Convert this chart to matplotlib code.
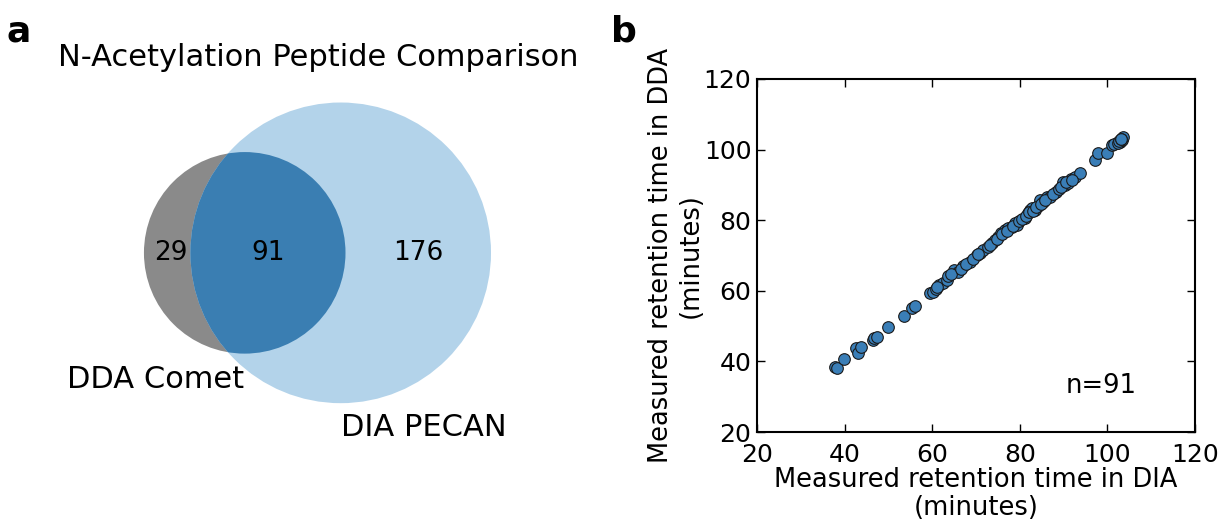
import matplotlib
matplotlib.use('Agg')
import matplotlib.pyplot as plt
from matplotlib.patches import Circle
import numpy as np

# venn counts
only_dda = 29
shared = 91
only_dia = 176
set_names = ['DDA Comet', 'DIA PECAN']

# retention times (minutes)
rt_dia = [37.8, 38.3, 39.9, 42.6, 43.1, 43.7, 46.4, 46.8, 47.5, 50.0,
          53.6, 55.5, 56.1, 59.5, 60.1, 61.6, 62.5, 63.3, 63.7, 65.0,
          66.0, 67.1, 68.6, 70.2, 70.9, 71.7, 72.8, 73.6, 74.3, 75.1,
          75.6, 76.6, 77.4, 78.2, 78.9, 79.3, 81.2, 81.9, 82.3, 82.7,
          83.5, 84.2, 84.6, 85.4, 86.1, 86.9, 88.3, 89.9, 90.3, 91.1,
          91.8, 92.6, 93.7, 97.2, 97.9, 99.8, 102.1, 102.9, 103.3, 103.6,
          60.8, 61.2, 64.4, 66.5, 67.8, 69.3, 70.5, 73.2, 74.8, 76.0,
          77.0, 78.5, 79.8, 80.5, 81.5, 82.0, 83.0, 83.8, 84.8, 85.8,
          87.5, 89.0, 89.5, 90.6, 92.0, 101.0, 101.6, 102.4, 102.7, 103.0,
          103.2]
rt_dda = [38.5, 38.0, 40.6, 43.7, 42.3, 44.0, 46.1, 46.5, 47.0, 49.8,
          52.9, 55.0, 55.7, 59.3, 59.7, 61.6, 62.3, 63.1, 64.2, 65.9,
          65.4, 67.1, 68.2, 70.1, 70.8, 71.6, 72.5, 73.4, 74.4, 75.3,
          76.3, 77.2, 77.7, 78.2, 79.1, 78.6, 80.5, 81.9, 82.9, 83.4,
          82.9, 84.0, 85.7, 85.2, 86.7, 86.7, 88.1, 90.9, 90.0, 90.4,
          91.8, 92.3, 93.3, 97.1, 98.9, 99.1, 101.8, 102.2, 102.7, 103.5,
          60.5, 61.0, 64.8, 66.2, 67.6, 69.0, 70.4, 73.0, 74.6, 76.0,
          76.8, 78.4, 79.7, 80.2, 81.3, 82.2, 82.5, 83.6, 84.7, 85.8,
          87.3, 88.8, 89.5, 90.7, 91.5, 101.2, 101.5, 102.0, 102.5, 102.9,
          103.1]

ticks = [20, 40, 60, 80, 100, 120]

fig = plt.figure(figsize=(12.28, 5.27), dpi=100)

# ---- panel a: venn ----
ax1 = fig.add_axes([0, 0, 620 / 1228, 1])
ax1.set_xlim(0, 620 / 9.2)
ax1.set_ylim(0, 527 / 9.2)
ax1.axis('off')

rA = np.sqrt(only_dda + shared)
rB = np.sqrt(shared + only_dia)
cA = (26.6, 29.8)
cB = (26.6 + 10.43, 29.8)

eA = Circle(cA, rA, facecolor='#8a8a8a', edgecolor='none')
eB = Circle(cB, rB, facecolor='#b3d3ea', edgecolor='none')
ax1.add_patch(eA)
ax1.add_patch(eB)
inter = Circle(cA, rA, facecolor='#3a7eb2', edgecolor='none')
ax1.add_patch(inter)
inter.set_clip_path(eB)

ax1.text((cA[0] - rA + cB[0] - rB) / 2 + 0.4, cA[1], str(only_dda), fontsize=19, ha='center', va='center')
ax1.text((cA[0] + rA + cB[0] - rB) / 2, cA[1], str(shared), fontsize=19, ha='center', va='center')
ax1.text((cA[0] + rA + cB[0] + rB) / 2, cB[1], str(only_dia), fontsize=19, ha='center', va='center')

fig.text(156 / 1228, 1 - 379 / 527, set_names[0], fontsize=22, ha='center', va='center')
fig.text(424 / 1228, 1 - 427 / 527, set_names[1], fontsize=22, ha='center', va='center')
fig.text(318 / 1228, 1 - 58 / 527, 'N-Acetylation Peptide Comparison', fontsize=22,
         ha='center', va='center')
fig.text(19 / 1228, 1 - 32 / 527, 'a', fontsize=26, fontweight='bold', ha='center', va='center')
fig.text(624 / 1228, 1 - 31 / 527, 'b', fontsize=26, fontweight='bold', ha='center', va='center')

# ---- panel b: scatter ----
ax2 = fig.add_axes([757 / 1228, 1 - 432 / 527, 438 / 1228, 353 / 527])
ax2.scatter(rt_dia, rt_dda, s=70, c='#3a7eb7', edgecolors='#1a1a1a', linewidths=0.8, zorder=3)
ax2.set_xlim(20, 120)
ax2.set_ylim(20, 120)
ax2.set_xticks(ticks)
ax2.set_yticks(ticks)
ax2.tick_params(direction='in', top=True, right=True, length=6, width=1, labelsize=18)
ax2.tick_params(axis='x', pad=8)
ax2.tick_params(axis='y', pad=4)
for s in ax2.spines.values():
    s.set_linewidth(1.5)
ax2.set_xlabel('Measured retention time in DIA\n(minutes)', fontsize=18.5, labelpad=0,
               linespacing=1.1)
ax2.set_ylabel('Measured retention time in DDA\n(minutes)', fontsize=18.5, labelpad=0)
ax2.text(98.5, 33, 'n=%d' % len(rt_dia), fontsize=18.5, ha='center', va='center')

fig.savefig('out.png', dpi=100)
